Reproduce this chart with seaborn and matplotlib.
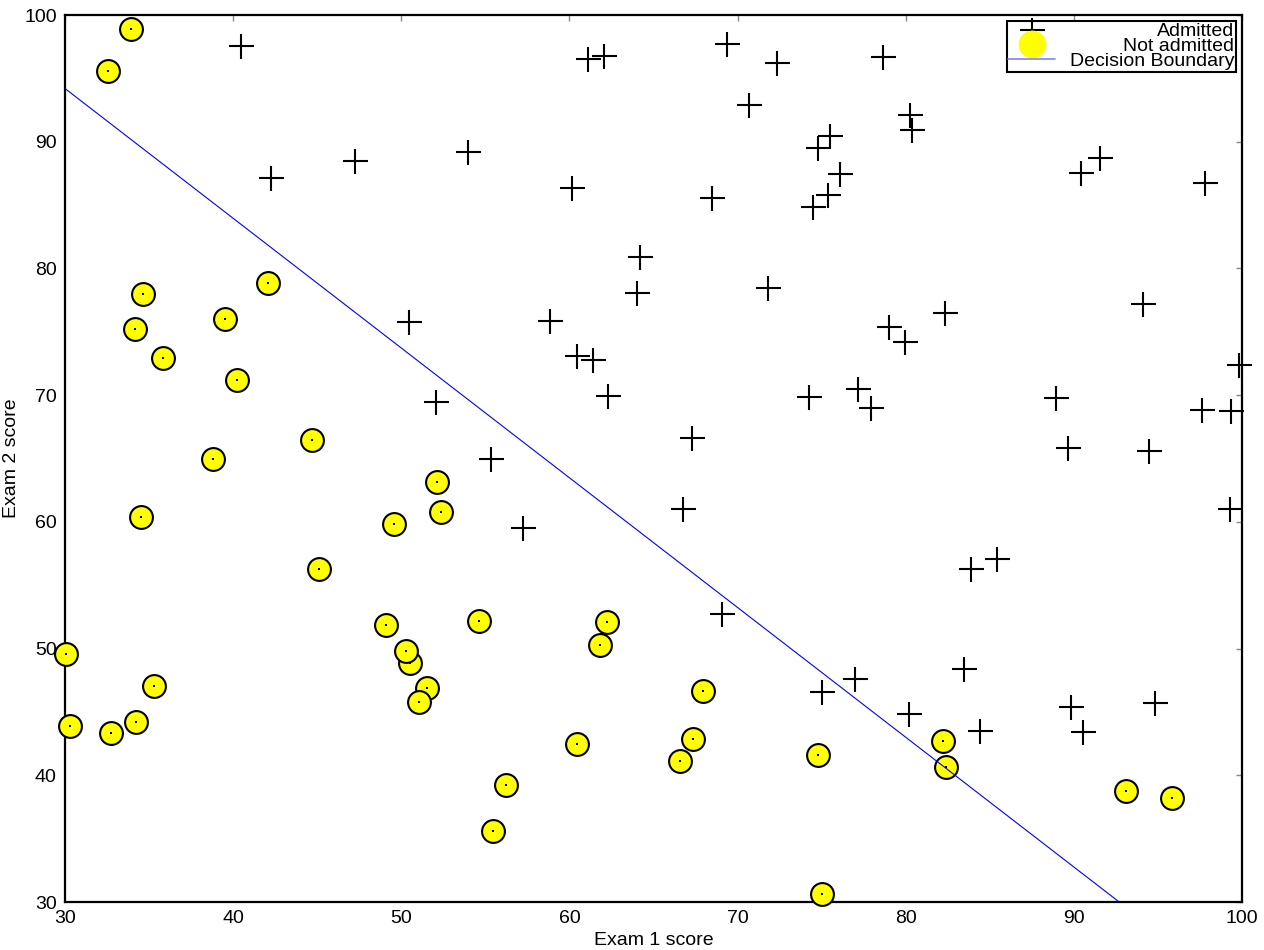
import matplotlib
matplotlib.use("Agg")
import matplotlib.pyplot as plt
from matplotlib.lines import Line2D
import seaborn as sns

# --------------------------
# Data (exam scores)
# --------------------------
admitted_x1 = [60.18, 79.03, 61.11, 75.02, 76.10, 84.43, 82.31, 69.36, 53.97, 69.07,
               70.66, 76.98, 89.68, 77.92, 62.27, 80.19, 61.38, 85.40, 52.05, 64.18,
               83.90, 94.44, 77.19, 97.77, 62.07, 91.56, 79.94, 99.27, 90.55, 97.65,
               74.25, 71.80, 75.40, 40.46, 80.28, 66.75, 64.04, 72.35, 60.46, 58.84,
               99.83, 47.26, 50.46, 88.91, 94.83, 67.32, 57.24, 80.37, 68.47, 75.48,
               78.64, 94.09, 90.45, 74.49, 89.85, 83.49, 42.26, 99.32, 55.34, 74.78]
admitted_x2 = [86.31, 75.34, 96.51, 46.55, 87.42, 43.53, 76.48, 97.72, 89.21, 52.74,
               92.93, 47.58, 65.80, 68.97, 69.95, 44.82, 72.81, 57.05, 69.43, 80.91,
               56.31, 65.57, 70.46, 86.73, 96.77, 88.70, 74.16, 61.00, 43.39, 68.86,
               69.82, 78.45, 85.76, 97.54, 92.12, 60.99, 78.03, 96.23, 73.09, 75.86,
               72.37, 88.48, 75.81, 69.80, 45.69, 66.59, 59.51, 90.96, 85.59, 90.42,
               96.65, 77.16, 87.51, 84.85, 45.36, 48.38, 87.10, 68.78, 64.93, 89.53]

not_admitted_x1 = [34.62, 30.29, 35.85, 45.08, 95.86, 75.01, 39.54, 67.95, 67.37, 50.53,
                   34.21, 93.11, 61.83, 38.79, 52.11, 40.24, 54.64, 33.92, 74.79, 34.18,
                   51.55, 82.37, 51.05, 62.22, 34.52, 50.29, 49.59, 32.58, 35.29, 56.25,
                   30.06, 44.67, 66.56, 49.07, 32.72, 60.46, 82.23, 42.08, 52.35, 55.48]
not_admitted_x2 = [78.02, 43.89, 72.90, 56.32, 38.23, 30.60, 76.04, 46.68, 42.84, 48.86,
                   44.21, 38.80, 50.26, 65.00, 63.13, 71.17, 52.21, 98.87, 41.57, 75.24,
                   46.86, 40.62, 45.82, 52.06, 60.40, 49.80, 59.81, 95.60, 47.02, 39.26,
                   49.59, 66.45, 41.09, 51.88, 43.31, 42.51, 42.72, 78.84, 60.77, 35.57]

# decision boundary end points
boundary_x = [30.0, 92.7]
boundary_y = [94.2, 30.0]

ticks = [30, 40, 50, 60, 70, 80, 90, 100]

# --------------------------
# Style
# --------------------------
sns.set_theme(style="white")
plt.rcParams["font.family"] = ["Liberation Sans", "DejaVu Sans"]
plt.rcParams["font.size"] = 14
plt.rcParams["text.color"] = "black"
plt.rcParams["axes.labelcolor"] = "black"

fig = plt.figure(figsize=(12.64, 9.5), dpi=100)
ax = fig.add_axes([0.0514, 0.0505, 0.9312, 0.9337])

# --------------------------
# Plot
# --------------------------
sns.scatterplot(x=admitted_x1, y=admitted_x2, marker="+", s=324, color="black",
                linewidth=1.5, ax=ax, clip_on=False, zorder=3)
sns.scatterplot(x=not_admitted_x1, y=not_admitted_x2, marker="o", s=270, color="#ffff00",
                edgecolor="black", linewidth=1.5, ax=ax, clip_on=False, zorder=3)
sns.scatterplot(x=not_admitted_x1, y=not_admitted_x2, marker="s", s=2.5, color="black",
                linewidth=0, ax=ax, clip_on=False, zorder=4)
sns.lineplot(x=boundary_x, y=boundary_y, color="#0000ff", linewidth=0.8, ax=ax, zorder=5)

ax.set_xlim(30, 100)
ax.set_ylim(30, 100)
ax.set_xticks(ticks)
ax.set_yticks(ticks)
ax.tick_params(direction="in", length=4, width=1, color="#888888", pad=6,
               top=True, right=True, labelsize=14, labelcolor="black")
for sp in ax.spines.values():
    sp.set_color("black")
    sp.set_linewidth(1.6)
    sp.set_zorder(2)

ax.set_xlabel("Exam 1 score", fontsize=14, labelpad=3, color="black")
ax.set_ylabel("Exam 2 score", fontsize=14, labelpad=3, color="black")

# --------------------------
# Legend (text right aligned)
# --------------------------
handles = [
    Line2D([], [], linestyle="none", marker="+", markersize=18, markeredgewidth=1.5,
           color="black"),
    Line2D([], [], linestyle="none", marker="o", markersize=19, markerfacecolor="#ffff00",
           markeredgecolor="#ffff00"),
    Line2D([], [], color="#8080ff", linewidth=1.2),
]
labels = ["Admitted", "Not admitted", "Decision Boundary"]
leg = ax.legend(handles, labels, loc="upper right", fontsize=14, frameon=True,
                fancybox=False, framealpha=1, borderpad=0.1, labelspacing=-0.14,
                handlelength=2.4, handletextpad=0.75, borderaxespad=0.3)
leg.get_frame().set_edgecolor("black")
leg.get_frame().set_linewidth(1.5)
for t in leg.get_texts():
    t.set_color("black")

fig.canvas.draw()
texts = leg.get_texts()
widths = [t.get_window_extent().width for t in texts]
for t, w in zip(texts, widths):
    t.set_position((max(widths) - w, 0))

fig.savefig("out.png", dpi=100)
